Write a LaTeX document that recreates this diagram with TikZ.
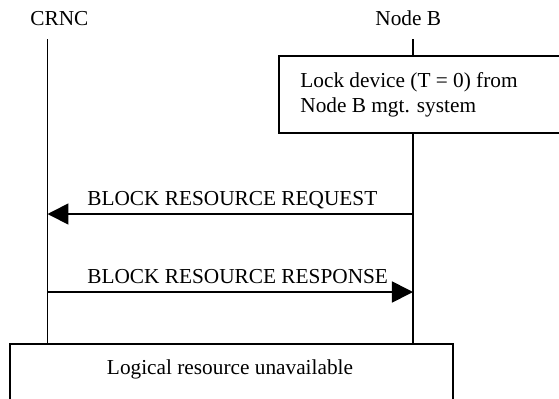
\documentclass[tikz,border=0pt]{standalone}
\usepackage{fontspec}
\setmainfont{Liberation Serif}
\usetikzlibrary{arrows.meta}
\begin{document}
\begin{tikzpicture}[x=0.5pt,y=-0.5pt,
  lbl/.style={anchor=base west,inner sep=0pt,font=\fontsize{10.65pt}{12.5pt}\selectfont},
  life/.style={line width=0.85pt},
  msg/.style={line width=0.85pt,-{Triangle[length=10.5pt,width=10.5pt]}},
  boxed/.style={draw,line width=0.85pt,fill=white,rectangle,inner sep=0pt,anchor=north west}]
\useasboundingbox (0,0) rectangle (559,398);

% entity headers
\node[lbl] (crnc) at (30,25) {CRNC};
\node[lbl] (nodeb) at (375,25) {Node B};

% lifelines
\coordinate (crncTop) at (47.5,39);
\coordinate (crncBot) at (47.5,343);
\coordinate (nbTop) at (413,39);
\coordinate (nbBot) at (413,343);
\draw[life] (crncTop) -- (crncBot);
\draw[life] (nbTop) -- (nbBot);

% local action at Node B
\node[boxed,minimum width=146pt,minimum height=38.5pt] (lockbox) at (278,55) {};
\node[lbl] (lock1) at (300,87) {Lock device (T = 0) from};
\node[lbl] (lock2) at (300,112) {Node B mgt. system};

% messages
\coordinate (reqB) at (413,214);
\coordinate (reqC) at (47.5,214);
\draw[msg] (reqB) -- (reqC);
\node[lbl] (reqlbl) at (87,205) {BLOCK RESOURCE REQUEST};

\coordinate (rspC) at (47.5,292);
\coordinate (rspB) at (413,292);
\draw[msg] (rspC) -- (rspB);
\node[lbl] (rsplbl) at (87,283) {BLOCK RESOURCE RESPONSE};

% resulting state
\node[boxed,minimum width=221.25pt,minimum height=38.5pt] (statebox) at (9.5,343) {};
\node[lbl,anchor=base] (statelbl) at (230,374) {Logical resource unavailable};
\end{tikzpicture}
\end{document}
